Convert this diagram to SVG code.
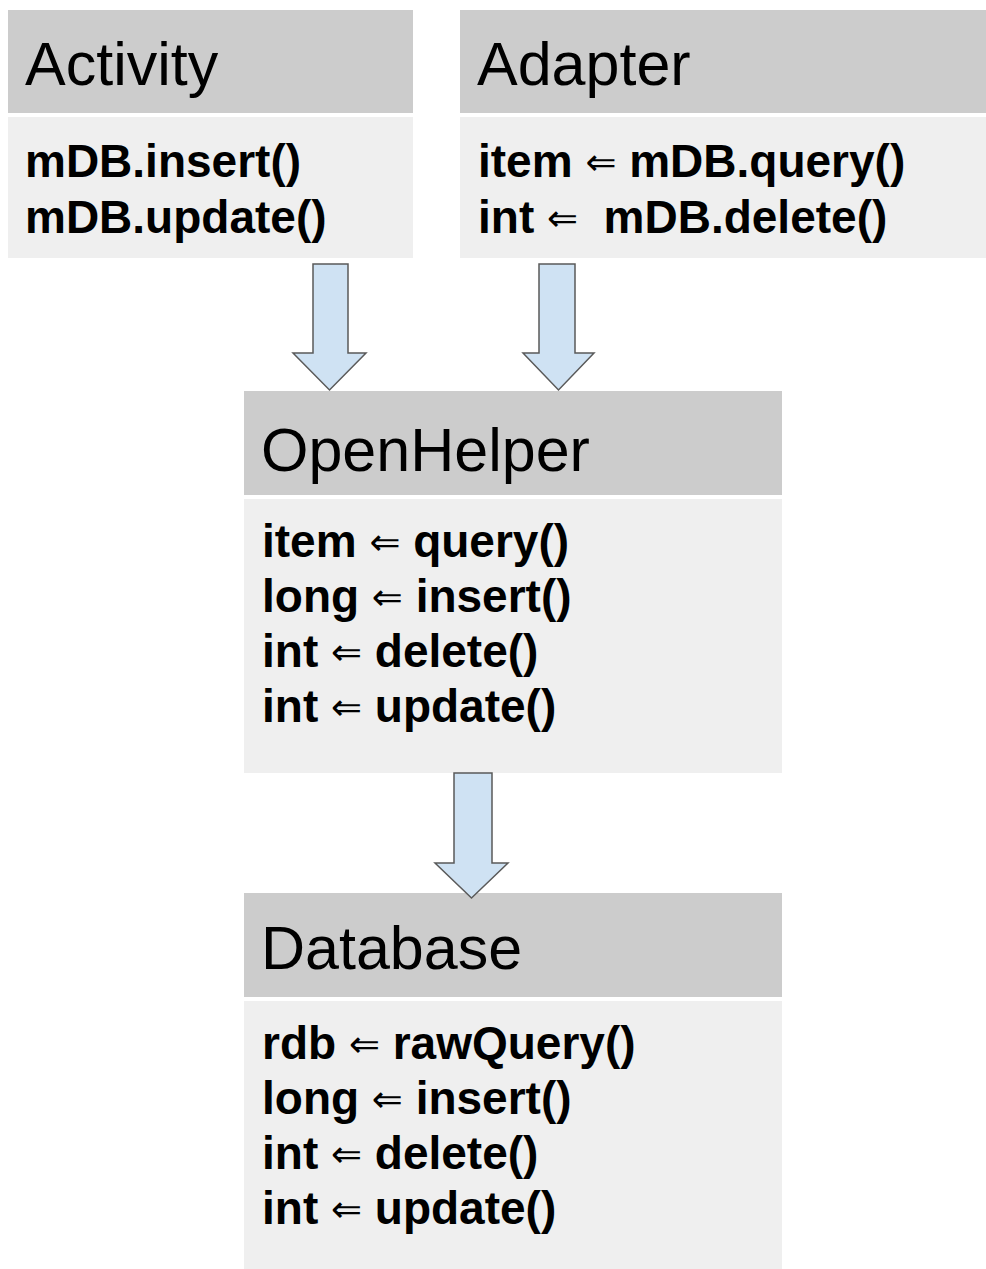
<svg xmlns="http://www.w3.org/2000/svg" width="986" height="1269" viewBox="0 0 986 1269">
<style>
.hd{fill:#cccccc}
.bd{fill:#efefef}
.title{font-family:"Liberation Sans",Arial,sans-serif;font-size:61px;fill:#000}
.line{font-family:"Liberation Sans",Arial,sans-serif;font-size:46px;font-weight:bold;fill:#000;white-space:pre}
.arr{font-family:"DejaVu Sans",sans-serif;font-weight:normal;font-size:37px}
.conn path{fill:#cfe2f3;stroke:#5a5a5a;stroke-width:1.5;stroke-linejoin:miter}
</style>
<rect width="986" height="1269" fill="#ffffff"/>
<g id="activity">
<rect class="hd" x="8" y="10" width="405" height="103"/>
<rect class="bd" x="8" y="117" width="405" height="141"/>
<text class="title" x="25" y="85">Activity</text>
<text class="line" x="25" y="177">mDB.insert()</text>
<text class="line" x="25" y="233">mDB.update()</text>
</g>
<g id="adapter">
<rect class="hd" x="460" y="10" width="526" height="103"/>
<rect class="bd" x="460" y="117" width="526" height="141"/>
<text class="title" x="477" y="85">Adapter</text>
<text class="line" x="478" y="177">item <tspan class="arr" dy="-2">⇐</tspan><tspan dy="2"> mDB.query()</tspan></text>
<text class="line" x="478" y="233" xml:space="preserve">int <tspan class="arr" dy="-2">⇐</tspan><tspan dy="2">  mDB.delete()</tspan></text>
</g>
<g id="openhelper">
<rect class="hd" x="244" y="391" width="538" height="104"/>
<rect class="bd" x="244" y="499" width="538" height="274"/>
<text class="title" x="261" y="471">OpenHelper</text>
<text class="line" x="262" y="557">item <tspan class="arr" dy="-2">⇐</tspan><tspan dy="2"> query()</tspan></text>
<text class="line" x="262" y="612">long <tspan class="arr" dy="-2">⇐</tspan><tspan dy="2"> insert()</tspan></text>
<text class="line" x="262" y="667">int <tspan class="arr" dy="-2">⇐</tspan><tspan dy="2"> delete()</tspan></text>
<text class="line" x="262" y="722">int <tspan class="arr" dy="-2">⇐</tspan><tspan dy="2"> update()</tspan></text>
</g>
<g id="database">
<rect class="hd" x="244" y="893" width="538" height="104"/>
<rect class="bd" x="244" y="1001" width="538" height="268"/>
<text class="title" x="261" y="969">Database</text>
<text class="line" x="262" y="1059">rdb <tspan class="arr" dy="-2">⇐</tspan><tspan dy="2"> rawQuery()</tspan></text>
<text class="line" x="262" y="1114">long <tspan class="arr" dy="-2">⇐</tspan><tspan dy="2"> insert()</tspan></text>
<text class="line" x="262" y="1169">int <tspan class="arr" dy="-2">⇐</tspan><tspan dy="2"> delete()</tspan></text>
<text class="line" x="262" y="1224">int <tspan class="arr" dy="-2">⇐</tspan><tspan dy="2"> update()</tspan></text>
</g>
<g id="connectors" class="conn">
<path d="M313,264 H348 V353 H366 L329.5,390 L293,353 H313 Z"/>
<path d="M539,264 H575 V353 H594 L558.5,390 L523,353 H539 Z"/>
<path d="M454,773 H492 V863 H508 L471.5,898 L435,863 H454 Z"/>
</g>
</svg>
